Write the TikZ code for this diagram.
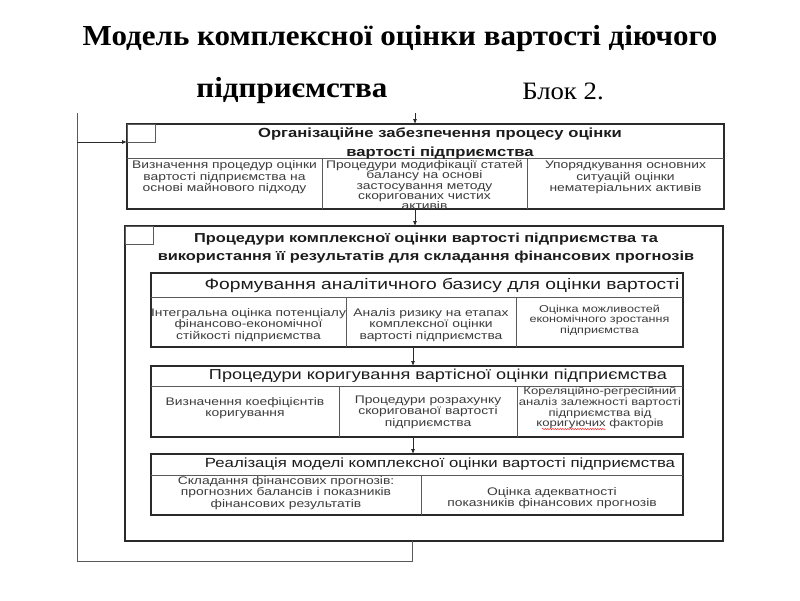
\documentclass[tikz,border=0pt]{standalone}
\usepackage{fontspec}
\setmainfont{Liberation Serif}
\newfontfamily\arfont[FakeStretch=1.26]{Liberation Sans}
\newfontfamily\titlefont[FakeStretch=1.07]{Liberation Serif}
\usetikzlibrary{arrows.meta,calc,decorations.pathmorphing}
\definecolor{txt}{HTML}{3C3C3C}
\definecolor{hd}{HTML}{1C1C1C}
\definecolor{ln}{HTML}{2A2A2A}
\definecolor{thinln}{HTML}{5A5A5A}
\begin{document}
\begin{tikzpicture}[x=1pt,y=-1pt,
  bigbox/.style={draw=ln,line width=1.7pt,inner sep=0pt,outer sep=0pt},
  midbox/.style={draw=ln,line width=1.4pt,inner sep=0pt,outer sep=0pt},
  sqbox/.style={draw=thinln,line width=0.8pt,inner sep=0pt,outer sep=0pt},
  innerln/.style={draw=thinln,line width=0.8pt},
  cell/.style={align=center,text=txt,inner sep=0pt,font=\arfont\fontsize{11}{11.4}\selectfont},
  smallcell/.style={cell,font=\arfont\fontsize{10}{10.6}\selectfont},
  bighead/.style={align=center,text=hd,inner sep=0pt,font=\arfont\bfseries\fontsize{13.2}{19}\selectfont},
  head/.style={align=center,text=hd,inner sep=0pt},
  arr/.style={draw=ln,line width=0.8pt,-{Latex[length=5pt,width=4pt]}},
  loopln/.style={draw=thinln,line width=0.9pt}
]
\useasboundingbox (0,0) rectangle (800,600);
\fill[white] (0,0) rectangle (800,600);

% title
\node[font=\titlefont\bfseries\fontsize{29}{32}\selectfont,text=black,inner sep=0pt] (t1) at (400,39) {Модель комплексної оцінки вартості діючого};
\node[font=\titlefont\bfseries\fontsize{29}{32}\selectfont,text=black,inner sep=0pt] (t2) at (292,91) {підприємства};
\node[font=\titlefont\fontsize{25}{28}\selectfont,text=black,inner sep=0pt] (t3) at (563,91) {Блок 2.};

% box 1
\node[bigbox,minimum width=597pt,minimum height=85pt] (b1) at (425.5,166.5) {};
\node[sqbox,minimum width=28pt,minimum height=18pt] (sq1) at (141,133) {};
\draw[innerln] (127,158) -- (724,158);
\draw[innerln] (322,158) -- (322,209);
\draw[innerln] (527,158) -- (527,209);
\node[bighead] (h1) at (440,143) {Організаційне забезпечення процесу оцінки\\вартості підприємства};
\node[cell] (c11) at (224.5,177.5) {Визначення процедур оцінки\\вартості підприємства на\\основі майнового підходу};
\node[cell,font=\arfont\fontsize{11}{10.4}\selectfont] (c12) at (424.5,185) {Процедури модифікації статей\\балансу на основі\\застосування методу\\скоригованих чистих\\активів};
\node[cell] (c13) at (625.5,177.5) {Упорядкування основних\\ситуацій оцінки\\нематеріальних активів};

% box 2
\node[bigbox,minimum width=598pt,minimum height=315pt] (b2) at (424,383.5) {};
\node[sqbox,minimum width=28pt,minimum height=18pt] (sq2) at (139,235) {};
\node[bighead,font=\arfont\bfseries\fontsize{13}{18}\selectfont] (h2) at (426,248) {Процедури комплексної оцінки вартості підприємства та\\використання її результатів для складання фінансових прогнозів};

% box A
\node[midbox,minimum width=532pt,minimum height=74pt] (ba) at (417,310) {};
\draw[innerln] (151,297) -- (683,297);
\draw[innerln] (346,297) -- (346,347);
\draw[innerln] (516,297) -- (516,347);
\node[head,font=\arfont\fontsize{15.25}{17}\selectfont] (ha) at (442,285) {Формування аналітичного базису для оцінки вартості};
\node[cell] (ca1) at (248.5,325) {Інтегральна оцінка потенціалу\\фінансово-економічної\\стійкості підприємства};
\node[cell] (ca2) at (431,325) {Аналіз ризику на етапах\\комплексної оцінки\\вартості підприємства};
\node[smallcell] (ca3) at (599.5,320) {Оцінка можливостей\\економічного зростання\\підприємства};

% box B
\node[midbox,minimum width=532pt,minimum height=71pt] (bb) at (417,401.5) {};
\draw[innerln] (151,386) -- (683,386);
\draw[innerln] (339,386) -- (339,437);
\draw[innerln] (517,386) -- (517,437);
\node[head,font=\arfont\fontsize{14.4}{16}\selectfont] (hb) at (438,376) {Процедури коригування вартісної оцінки підприємства};
\node[cell] (cb1) at (245,408) {Визначення коефіцієнтів\\коригування};
\node[cell] (cb2) at (428,412) {Процедури розрахунку\\скоригованої вартості\\підприємства};
\node[cell,font=\arfont\fontsize{10.4}{10.6}\selectfont] (cb3) at (600,408) {Кореляційно-регресійний\\аналіз залежності вартості\\підприємства від\\коригуючих факторів};
\draw[red!80,line width=0.5pt,decorate,decoration={snake,amplitude=0.7pt,segment length=2.5pt}] (542,429) -- (606,429);

% box C
\node[midbox,minimum width=532pt,minimum height=61pt] (bc) at (417,484.5) {};
\draw[innerln] (151,475) -- (683,475);
\draw[innerln] (421,475) -- (421,515);
\node[head,font=\arfont\fontsize{13.3}{15}\selectfont] (hc) at (440,464) {Реалізація моделі комплексної оцінки вартості підприємства};
\node[cell] (cc1) at (286,493) {Складання фінансових прогнозів:\\прогнозних балансів і показників\\фінансових результатів};
\node[cell] (cc2) at (552,498) {Оцінка адекватності\\показників фінансових прогнозів};

% connectors
\coordinate (ax) at (415,113);
\coordinate (ay) at (413,0);
\coordinate (fx) at (412,0);
\coordinate (lt) at (77,113);
\coordinate (lb) at (77,561);
\draw[arr] (ax) -- (b1.north -| ax);
\draw[arr] (b1.south -| ax) -- (b2.north -| ax);
\draw[arr] (ba.south -| ay) -- (bb.north -| ay);
\draw[arr] (bb.south -| ay) -- (bc.north -| ay);
\draw[loopln] (b2.south -| fx) -- (fx |- lb) -- (lb) -- (lt);
\draw[arr] (sq1.south west -| lt) -- (sq1.south west);
\end{tikzpicture}
\end{document}
